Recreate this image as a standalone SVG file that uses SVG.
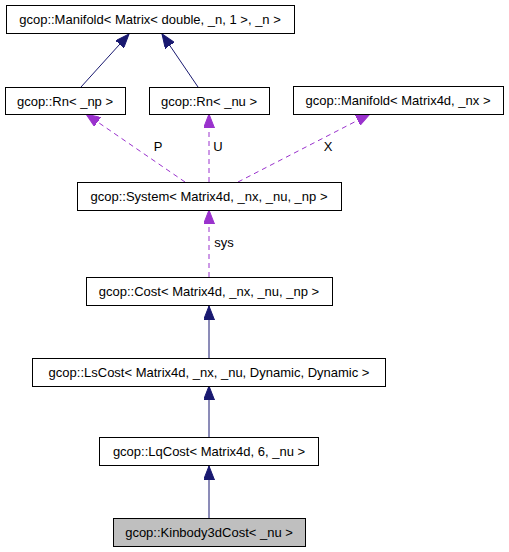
<svg xmlns="http://www.w3.org/2000/svg" width="509" height="552" viewBox="0 0 509 552">
<defs>
<style>
.node rect{fill:#ffffff;stroke:#000000;stroke-width:1}
.node text{font-family:"Liberation Sans",Arial,Helvetica,sans-serif;font-size:13px;fill:#000000;text-anchor:middle}
.inh{stroke:#191970;stroke-width:1;fill:none;marker-end:url(#aInh)}
.use{stroke:#9a32cd;stroke-width:1;fill:none;stroke-dasharray:5,4;marker-end:url(#aUse)}
.lbl{font-family:"Liberation Sans",Arial,Helvetica,sans-serif;font-size:13px;fill:#000000;text-anchor:middle}
</style>
<marker id="aInh" viewBox="0 0 14 11" refX="14" refY="5.5" markerWidth="14" markerHeight="11" markerUnits="userSpaceOnUse" orient="auto">
<path d="M0,0 L14,5.5 L0,11 Z" fill="#191970" stroke="#191970"/>
</marker>
<marker id="aUse" viewBox="0 0 14 11" refX="14" refY="5.5" markerWidth="14" markerHeight="11" markerUnits="userSpaceOnUse" orient="auto">
<path d="M0,0 L14,5.5 L0,11 Z" fill="#9a32cd" stroke="#9a32cd"/>
</marker>
</defs>
<rect width="509" height="552" fill="#ffffff"/>
<g id="edges">
<line class="inh" x1="81" y1="87" x2="129" y2="34"/>
<line class="inh" x1="198" y1="87" x2="162" y2="34"/>
<line class="use" x1="185" y1="182" x2="86" y2="114"/>
<text class="lbl" x="158" y="151">P</text>
<line class="use" x1="209" y1="182" x2="209" y2="114"/>
<text class="lbl" x="218" y="151">U</text>
<line class="use" x1="238" y1="182" x2="370" y2="114"/>
<text class="lbl" x="328" y="151">X</text>
<line class="use" x1="209" y1="277" x2="209" y2="210"/>
<text class="lbl" x="224" y="247">sys</text>
<line class="inh" x1="209" y1="358" x2="209" y2="306"/>
<line class="inh" x1="209" y1="437" x2="209" y2="386"/>
<line class="inh" x1="209" y1="518" x2="209" y2="466"/>
</g>
<g id="manifold_matrix" class="node"><rect x="6.5" y="5.5" width="288" height="28"/><text x="150" y="24">gcop::Manifold&lt; Matrix&lt; double, _n, 1 &gt;, _n &gt;</text></g>
<g id="rn_np" class="node"><rect x="5.5" y="87.5" width="120" height="27"/><text x="65" y="106">gcop::Rn&lt; _np &gt;</text></g>
<g id="rn_nu" class="node"><rect x="149.5" y="87.5" width="120" height="27"/><text x="209" y="106">gcop::Rn&lt; _nu &gt;</text></g>
<g id="manifold_4d" class="node"><rect x="293.5" y="86.5" width="210" height="28"/><text x="398" y="105">gcop::Manifold&lt; Matrix4d, _nx &gt;</text></g>
<g id="system" class="node"><rect x="77.5" y="182.5" width="264" height="28"/><text x="209" y="201">gcop::System&lt; Matrix4d, _nx, _nu, _np &gt;</text></g>
<g id="cost" class="node"><rect x="86.5" y="277.5" width="246" height="28"/><text x="209" y="296">gcop::Cost&lt; Matrix4d, _nx, _nu, _np &gt;</text></g>
<g id="lscost" class="node"><rect x="32.5" y="358.5" width="353" height="28"/><text x="209" y="377">gcop::LsCost&lt; Matrix4d, _nx, _nu, Dynamic, Dynamic &gt;</text></g>
<g id="lqcost" class="node"><rect x="99.5" y="437.5" width="219" height="28"/><text x="209" y="456">gcop::LqCost&lt; Matrix4d, 6, _nu &gt;</text></g>
<g id="kinbody" class="node"><rect x="113.5" y="518.5" width="192" height="28" style="fill:#bfbfbf"/><text x="209" y="537">gcop::Kinbody3dCost&lt; _nu &gt;</text></g>
</svg>
